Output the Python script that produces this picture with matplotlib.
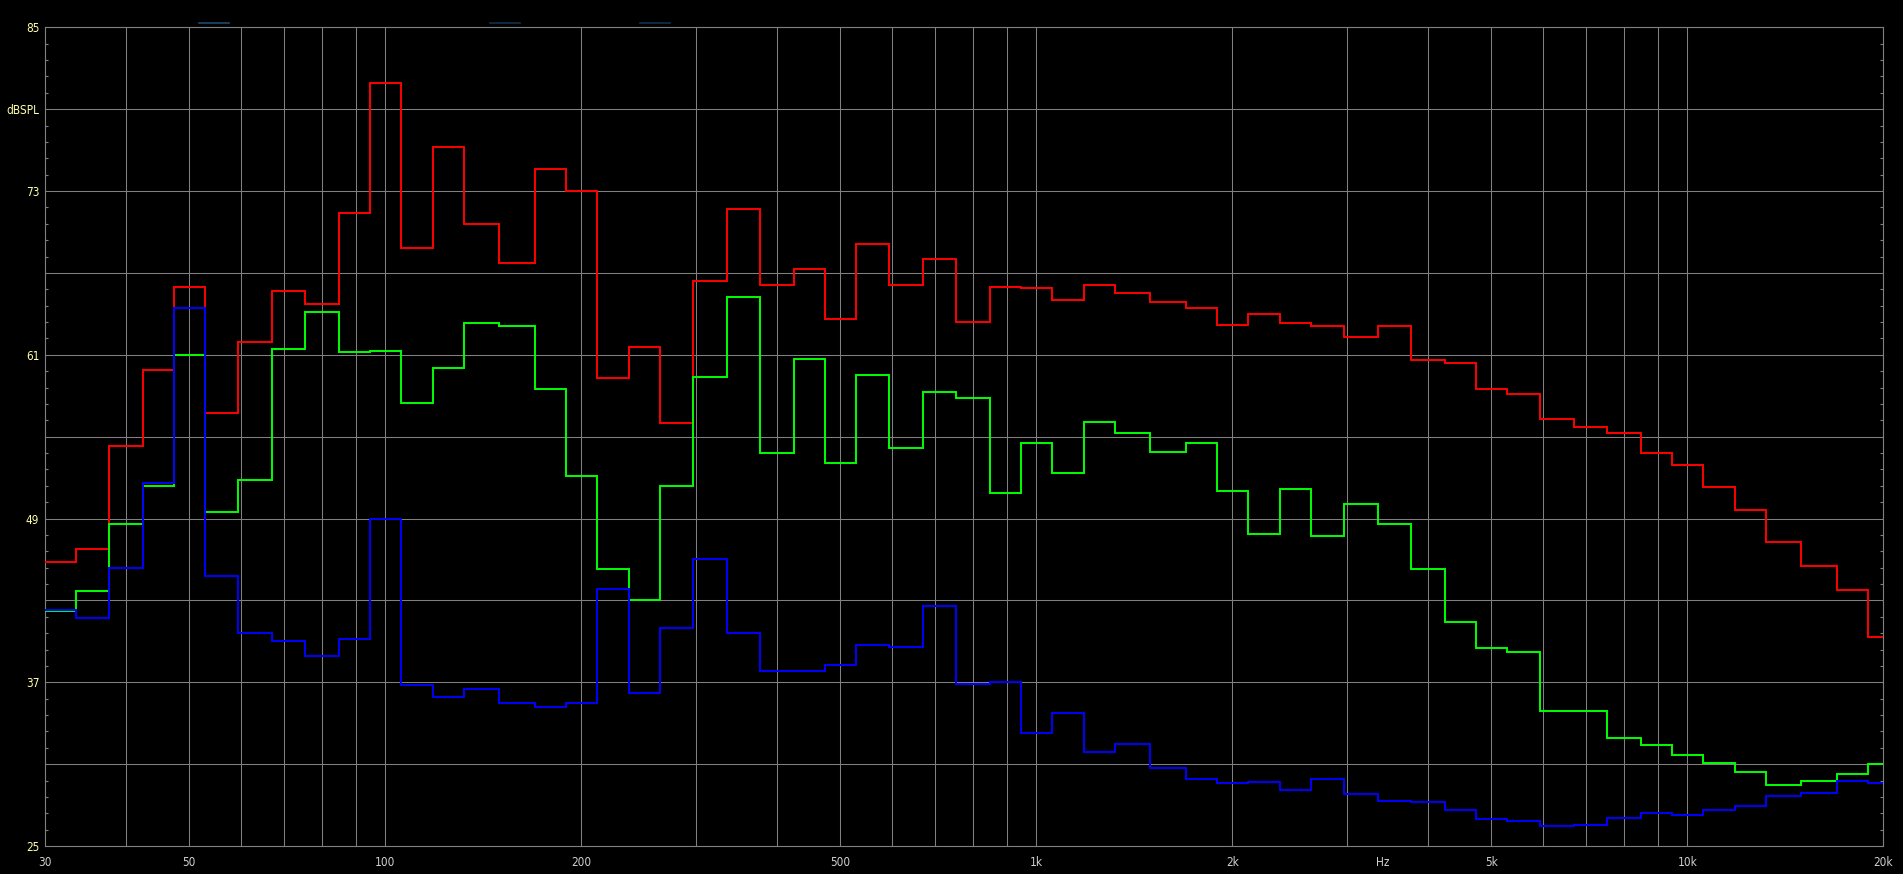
import matplotlib as mpl
mpl.use('Agg')
import matplotlib.pyplot as plt
from matplotlib.lines import Line2D
import numpy as np

# 1/6 octave band centres (Hz)
bands = [31.5, 35.5, 40, 45, 50, 56, 63, 71, 80, 90,
         100, 112, 125, 140, 160, 180, 200, 224, 250, 280,
         315, 355, 400, 450, 500, 560, 630, 710, 800, 900,
         1000, 1120, 1250, 1400, 1600, 1800, 2000, 2240, 2500, 2800,
         3150, 3550, 4000, 4500, 5000, 5600, 6300, 7100, 8000, 9000,
         10000, 11200, 12500, 14000, 16000, 18000, 20000]

red = [45.8, 46.8, 54.3, 59.9, 65.95, 56.7, 61.9, 65.7, 64.7, 71.4,
       80.9, 68.8, 76.2, 70.6, 67.7, 74.6, 73.0, 59.3, 61.6, 56.0,
       66.4, 71.65, 66.1, 67.3, 63.6, 69.1, 66.1, 68.0, 63.4, 66.0,
       65.9, 65.0, 66.1, 65.5, 64.9, 64.4, 63.15, 64.0, 63.35, 63.1,
       62.3, 63.1, 60.6, 60.4, 58.5, 58.1, 56.3, 55.7, 55.3, 53.8,
       52.95, 51.3, 49.65, 47.25, 45.5, 43.75, 40.3]

green = [42.2, 43.7, 48.6, 51.4, 61.0, 49.5, 51.8, 61.4, 64.1, 61.2,
         61.3, 57.5, 60.0, 63.3, 63.1, 58.5, 52.1, 45.3, 43.0, 51.4,
         59.4, 65.2, 53.8, 60.7, 53.1, 59.5, 54.2, 58.3, 57.8, 50.85,
         54.5, 52.3, 56.05, 55.3, 53.9, 54.5, 51.0, 47.9, 51.2, 47.75,
         50.1, 48.6, 45.3, 41.4, 39.5, 39.25, 34.9, 34.9, 32.9, 32.4,
         31.7, 31.1, 30.4, 29.5, 29.8, 30.25, 31.0]

blue = [42.3, 41.7, 45.4, 51.6, 64.4, 44.8, 40.6, 40.0, 38.9, 40.2,
        49.0, 36.8, 35.9, 36.5, 35.5, 35.2, 35.5, 43.8, 36.2, 41.0,
        46.0, 40.6, 37.8, 37.8, 38.3, 39.7, 39.6, 42.6, 36.9, 37.0,
        33.3, 34.75, 31.9, 32.5, 30.7, 29.9, 29.6, 29.7, 29.1, 29.9,
        28.8, 28.3, 28.2, 27.65, 27.0, 26.8, 26.45, 26.55, 27.05, 27.45,
        27.3, 27.65, 27.9, 28.7, 28.85, 29.8, 29.6]

x_grid = [30, 40, 50, 60, 70, 80, 90, 100, 200, 300, 400, 500, 600, 700, 800, 900,
          1000, 2000, 3000, 4000, 5000, 6000, 7000, 8000, 9000, 10000, 20000]
x_ticks = [30, 50, 100, 200, 500, 1000, 2000, 3400, 5000, 10000, 20000]
x_labels = ['30', '50', '100', '200', '500', '1k', '2k', 'Hz', '5k', '10k', '20k']
y_ticks = [25, 31, 37, 43, 49, 55, 61, 67, 73, 79, 85]
y_labels = ['25', '', '37', '', '49', '', '61', '', '73', 'dBSPL', '85']


def band_edges(c):
    c = np.asarray(c, dtype=float)
    mid = np.sqrt(c[:-1] * c[1:])
    return np.concatenate([[c[0] ** 2 / mid[0]], mid, [c[-1] ** 2 / mid[-1]]])


def main():
    plt.rcParams['font.family'] = ['Liberation Sans Narrow', 'DejaVu Sans']
    plt.rcParams['font.stretch'] = 'condensed'
    fig = plt.figure(figsize=(19.03, 8.74), dpi=100, facecolor='black')
    ax = fig.add_axes([44.9 / 1903, 28 / 874, 1838.4 / 1903, 818.7 / 874])
    ax.set_facecolor('black')

    ax.set_xscale('log')
    ax.set_xlim(30, 20000)
    ax.set_ylim(25, 85)

    gc = '#808080'
    for f in x_grid:
        ax.axvline(f, color=gc, lw=0.75, zorder=1)
    for v in y_ticks:
        ax.axhline(v, color=gc, lw=0.75, zorder=1)

    edges = band_edges(bands)
    ax.stairs(red, edges, baseline=None, color='#ff0000', lw=1.4, zorder=3)
    ax.stairs(green, edges, baseline=None, color='#00ff00', lw=1.4, zorder=4)
    ax.stairs(blue, edges, baseline=None, color='#0000ff', lw=1.4, zorder=5)

    ax.set_xticks(x_ticks)
    ax.set_xticklabels(x_labels)
    ax.xaxis.set_minor_locator(mpl.ticker.NullLocator())
    ax.tick_params(axis='x', which='major', length=0, pad=7,
                   labelsize=8.5, labelcolor='#d0d0d0')

    ax.set_yticks(y_ticks)
    ax.set_yticklabels(y_labels)
    ax.set_yticks(np.arange(25, 85.01, 1.2), minor=True)
    ax.tick_params(axis='y', which='major', length=0, pad=4,
                   labelsize=8.5, labelcolor='#ffffa8')
    ax.tick_params(axis='y', which='minor', direction='in', length=2.5,
                   width=0.8, color=gc, left=True, right=True)

    for s in ax.spines.values():
        s.set_color(gc)
        s.set_linewidth(0.8)

    # faint legend stubs above the plot
    for x0, col in [(199, '#1c4a70'), (490, '#10304c'), (640, '#10304c')]:
        fig.add_artist(Line2D([x0 / 1903, (x0 + 30) / 1903], [1 - 22.7 / 874] * 2,
                              color=col, lw=1.2))

    fig.savefig('out.png', dpi=100, facecolor='black')


if __name__ == '__main__':
    main()
